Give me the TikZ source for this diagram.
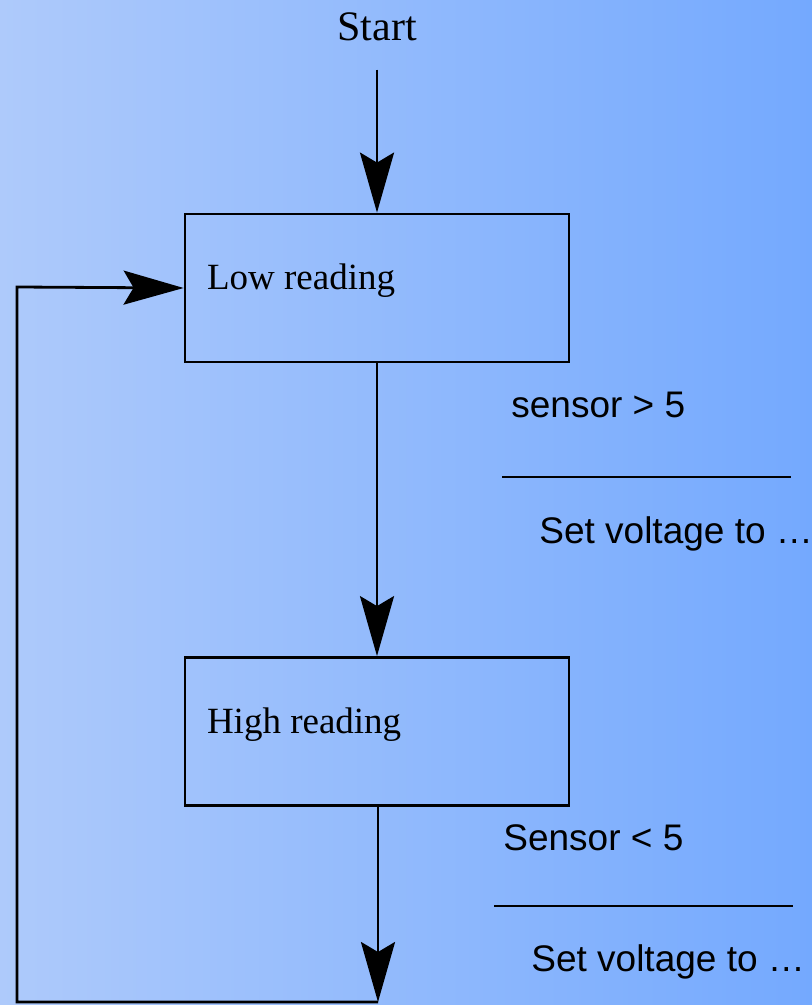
\documentclass[tikz,border=0pt]{standalone}
\usepackage{fontspec}
\setmainfont{Liberation Serif}
\setsansfont{Liberation Sans}
\usetikzlibrary{arrows.meta}
\definecolor{BgLight}{RGB}{174,202,251}
\definecolor{BgDark}{RGB}{116,169,254}

\begin{document}
\begin{tikzpicture}[x=0.5pt,y=-0.5pt,line width=1.4pt,
  box/.style={draw,minimum width=192pt,minimum height=74pt,inner sep=0pt},
  flow/.style={-{Stealth[length=30pt,width=17pt,inset=5pt]}},
  boxtext/.style={font=\fontsize{18.5}{22}\selectfont,anchor=base west,inner sep=0pt},
  cond/.style={font=\sffamily\fontsize{18.5}{22}\selectfont,anchor=west,inner sep=0pt}]
            \shade[left color=BgLight,right color=BgDark] (0,0) rectangle (812,1005);
            \path[use as bounding box] (0,0) rectangle (812,1005);

            \node[font=\fontsize{21}{25}\selectfont,inner xsep=0pt,inner ysep=13.5pt] (start) at (377,27) {Start};
            \foreach \name/\y/\txt in {low/288/Low reading, high/731.5/High reading} {
                \node[box] (\name) at (377,\y) {};
                \node[boxtext] (\name txt) at ([xshift=11pt,yshift=-1pt]\name.west) {\txt};
            }
            \coordinate (bottom) at (378,1002);
            \coordinate (back) at (17,287);

            \draw[flow] (start.south) -- (low.north);
            \draw[flow] (low.south) -- (high.north);
            \draw[flow] ([xshift=0.5pt]high.south) -- (bottom);
            \draw[flow] (bottom) -| (back) -- (low.west);

            \node[cond] (upcond) at (510,405) {sensor > 5};
            \draw (502,477) -- (791,477);
            \node[cond] (upact) at (538,534) {Set voltage to …};
            \node[cond] (downcond) at (502,838) {Sensor < 5};
            \draw (494,906) -- (793,906);
            \node[cond] (downact) at (530,962) {Set voltage to …};
\end{tikzpicture}
\end{document}
